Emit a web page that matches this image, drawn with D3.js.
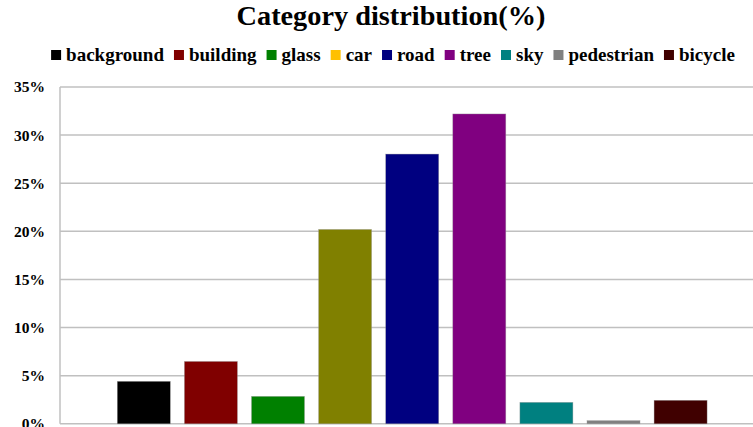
<!DOCTYPE html>
<html><head><meta charset="utf-8">
<script src="https://cdn.jsdelivr.net/npm/d3@7"></script>
<style>body{margin:0;background:#fff}svg{display:block}text{font-family:"Liberation Serif","Times New Roman",serif;font-weight:bold}</style>
</head><body>
<script>
const categories = ["background","building","glass","car","road","tree","sky","pedestrian","bicycle"];
const values = [4.41, 6.48, 2.85, 20.2, 28.03, 32.2, 2.23, 0.33, 2.44];
const barColors = ["#000000","#800000","#008000","#808000","#000080","#800080","#008080","#808080","#400000"];
const legendColors = ["#000000","#800000","#008000","#FFC000","#000080","#800080","#008080","#808080","#400000"];
const yTicks = [0,5,10,15,20,25,30,35];
const title = "Category distribution(%)";

const W = 753, H = 427;
const svg = d3.select("body").append("svg").attr("width", W).attr("height", H);

const y = d3.scaleLinear().domain([0,35]).range([423.8, 87]);
const x = d3.scaleBand().domain(categories).range([60, 764.4]).paddingInner(0.21).paddingOuter(0.854);

svg.append("text").attr("x", 391).attr("y", 25).attr("text-anchor","middle")
  .style("font-size","28.3px").text(title);

// gridlines
svg.append("g").selectAll("line").data(yTicks).join("line")
  .attr("x1", 60).attr("x2", W).attr("y1", d=>y(d)).attr("y2", d=>y(d))
  .attr("stroke", "#c0c0c0").attr("stroke-width", 1.5);
svg.append("line").attr("x1",60).attr("x2",60).attr("y1",y(35)).attr("y2",y(0))
  .attr("stroke","#c0c0c0").attr("stroke-width",1.5);

const yAxis = d3.axisLeft(y).tickValues(yTicks).tickFormat(d=>d+"%").tickSize(0).tickPadding(15);
const ga = svg.append("g").attr("transform","translate(60,0)").call(yAxis);
ga.select(".domain").remove();
ga.selectAll("text").style("font-size","15.5px").attr("fill","#000")
  .style("font-family",'"Liberation Serif","Times New Roman",serif').style("font-weight","bold");

svg.append("g").selectAll("rect").data(categories).join("rect")
  .attr("x", d=>x(d)).attr("width", x.bandwidth())
  .attr("y", (d,i)=>y(values[i])).attr("height", (d,i)=>y(0)-y(values[i]))
  .attr("fill", (d,i)=>barColors[i]).attr("stroke", "#999").attr("stroke-width", 0.6).attr("stroke-opacity",0.6);

// legend
const lg = svg.append("g");
const items = lg.selectAll("g").data(categories).join("g");
items.append("rect").attr("width",10).attr("height",10).attr("y",-11).attr("fill",(d,i)=>legendColors[i]);
items.append("text").attr("x",15).attr("y",0).style("font-size","19px").text(d=>d);
let cx = 0;
items.each(function(d){
  const t = d3.select(this).select("text").node().getComputedTextLength();
  d3.select(this).attr("transform", `translate(${cx},0)`);
  cx += 15 + t + 10;
});
const total = cx - 10;
lg.attr("transform", `translate(${393 - total/2},61)`);
</script>
</body></html>
